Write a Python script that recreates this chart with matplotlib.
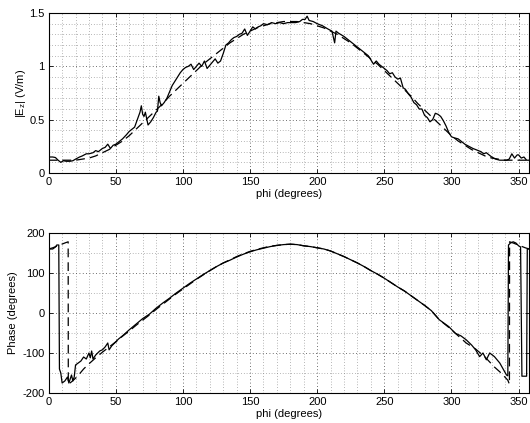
import matplotlib
matplotlib.use("Agg")
import matplotlib.pyplot as plt
from matplotlib.ticker import MultipleLocator

plt.rcParams['font.family'] = ['Liberation Sans', 'DejaVu Sans']

# ---- Data: |Ez| magnitude ----
mag_meas_phi = [0, 3, 5, 7, 9, 11, 13, 16, 18, 20, 23, 25, 28, 30, 33, 35, 37, 40, 42, 44,
                46, 48, 50, 53, 55, 58, 60, 62, 64, 66, 68, 69, 70, 71, 72, 74, 76, 78, 80, 81,
                82, 83, 84, 86, 88, 90, 92, 94, 96, 98, 100, 102, 104, 106, 108, 110, 112, 114, 116, 118,
                120, 122, 124, 126, 128, 130, 132, 134, 136, 138, 140, 142, 144, 146, 148, 150, 152, 154, 156, 158,
                160, 163, 166, 169, 172, 175, 178, 181, 184, 187, 189, 191, 192.5, 194, 197, 200, 204, 208, 211, 213,
                214, 216, 220, 224, 228, 231, 234, 238, 240, 242, 244, 246, 248, 250, 252, 254, 256, 258, 260, 262,
                264, 266, 268, 270, 272, 274, 276, 278, 280, 282, 284, 286, 288, 290, 292, 294, 296, 298, 300, 302,
                305, 308, 310, 313, 316, 318, 320, 322, 324, 326, 328, 330, 333, 336, 338, 341, 343, 345, 347, 349,
                350, 352, 354, 356, 358]
mag_meas = [0.15, 0.15, 0.145, 0.12, 0.10, 0.115, 0.11, 0.11, 0.115, 0.13, 0.15, 0.16, 0.18, 0.18, 0.19, 0.21, 0.20, 0.23, 0.24, 0.27,
            0.23, 0.26, 0.27, 0.30, 0.32, 0.36, 0.39, 0.41, 0.43, 0.50, 0.57, 0.63, 0.55, 0.53, 0.57, 0.45, 0.48, 0.52, 0.57, 0.58,
            0.72, 0.66, 0.63, 0.66, 0.70, 0.76, 0.82, 0.86, 0.90, 0.94, 0.97, 0.99, 1.00, 1.02, 0.97, 1.00, 1.03, 1.00, 1.05, 0.98,
            1.01, 1.04, 1.07, 1.03, 1.05, 1.12, 1.20, 1.22, 1.25, 1.27, 1.28, 1.30, 1.31, 1.35, 1.29, 1.33, 1.37, 1.35, 1.37, 1.38,
            1.40, 1.39, 1.41, 1.40, 1.41, 1.40, 1.41, 1.41, 1.41, 1.42, 1.44, 1.44, 1.47, 1.43, 1.42, 1.40, 1.38, 1.35, 1.33, 1.22,
            1.33, 1.31, 1.28, 1.24, 1.20, 1.17, 1.14, 1.10, 1.06, 1.02, 1.05, 1.02, 1.00, 0.98, 0.96, 0.93, 0.94, 0.90, 0.88, 0.89,
            0.80, 0.78, 0.74, 0.71, 0.66, 0.64, 0.60, 0.60, 0.54, 0.52, 0.48, 0.50, 0.56, 0.55, 0.53, 0.49, 0.44, 0.38, 0.34, 0.33,
            0.32, 0.29, 0.27, 0.25, 0.23, 0.22, 0.21, 0.20, 0.18, 0.19, 0.17, 0.15, 0.13, 0.12, 0.12, 0.12, 0.13, 0.18, 0.14, 0.17,
            0.17, 0.14, 0.15, 0.12, 0.12]

mag_theory_phi = [0, 5, 10, 15, 20, 25, 30, 35, 40, 45, 50, 55, 60, 65, 70, 75, 80, 85, 90, 95,
                  100, 105, 110, 115, 120, 125, 130, 135, 140, 145, 150, 155, 160, 165, 170, 175, 180, 185, 190, 195,
                  200, 205, 210, 215, 220, 225, 230, 235, 240, 245, 250, 255, 260, 265, 270, 275, 280, 285, 290, 295,
                  300, 305, 310, 315, 320, 325, 330, 335, 340, 345, 350, 355, 358]
mag_theory = [0.12, 0.12, 0.12, 0.12, 0.12, 0.13, 0.14, 0.16, 0.19, 0.22, 0.26, 0.30, 0.35, 0.41, 0.47, 0.53, 0.59, 0.65, 0.72, 0.78,
              0.84, 0.90, 0.96, 1.02, 1.07, 1.12, 1.17, 1.22, 1.26, 1.30, 1.33, 1.36, 1.38, 1.40, 1.41, 1.42, 1.42, 1.42, 1.41, 1.40,
              1.38, 1.36, 1.33, 1.30, 1.26, 1.22, 1.17, 1.12, 1.07, 1.02, 0.96, 0.90, 0.84, 0.78, 0.72, 0.65, 0.59, 0.53, 0.47, 0.41,
              0.35, 0.30, 0.26, 0.22, 0.19, 0.16, 0.14, 0.13, 0.12, 0.12, 0.12, 0.12, 0.12]

# ---- Data: phase ----
ph_meas_phi = [0, 3, 5, 6, 7.5, 8, 9, 10, 12, 13, 14, 15, 16, 17, 18, 19, 20, 22, 24, 26,
               28, 30, 31, 32, 33, 35, 38, 40, 42, 44, 45, 47, 50, 52, 55, 60, 65, 70, 75, 80,
               85, 90, 95, 100, 105, 110, 115, 120, 125, 130, 135, 140, 145, 150, 155, 160, 165, 170, 175, 180,
               185, 190, 195, 200, 205, 210, 215, 220, 225, 230, 235, 240, 245, 250, 255, 260, 265, 270, 275, 280,
               285, 291, 298, 303, 307, 311, 315, 318, 321, 323.5, 326, 328.5, 332, 336, 341, 342,
               342.5, 344, 346, 348, 350, 351.5, 352.5, 356, 356.5, 358]
ph_meas = [160, 160, 165, 170, 170, -140, -150, -175, -170, -165, -160, -175, -165, -155, -170, -160, -130, -125, -120, -110,
           -115, -100, -112, -95, -115, -105, -95, -92, -85, -75, -92, -82, -72, -65, -57, -42, -28, -14, -3, 12,
           25, 37, 50, 62, 74, 85, 96, 106, 116, 125, 132, 140, 147, 153, 158, 162, 166, 169, 171, 172,
           171, 168, 166, 163, 160, 155, 148, 141, 133, 125, 116, 106, 97, 87, 76, 65, 55, 43, 31, 19,
           6, -17, -34, -51, -57, -67, -80, -92, -109, -100, -117, -100, -109, -125, -155, -157,
           170, 175, 178, 175, 168, 165, -158, -158, 160, 160]

ph_theory_phi = [0, 3, 6, 9, 12, 14.5, 14.6, 17, 20, 23, 26, 30, 35, 40, 45, 50, 55, 60, 65, 70,
                 75, 80, 85, 90, 95, 100, 105, 110, 115, 120, 125, 130, 135, 140, 145, 150, 155, 160, 165, 170,
                 175, 180, 185, 190, 195, 200, 205, 210, 215, 220, 225, 230, 235, 240, 245, 250, 255, 260, 265, 270,
                 275, 280, 285, 291, 298, 305, 311, 318, 325, 332, 337, 342, 343.2, 343.3, 346, 349, 352,
                 355, 358]
ph_theory = [160, 163, 167, 171, 175, 178, -178, -172, -163, -152, -140, -127, -112, -98, -85, -72, -58, -45, -31, -18,
             -5, 9, 22, 35, 48, 60, 72, 84, 95, 106, 116, 125, 133, 141, 148, 154, 159, 163, 167, 169,
             171, 172, 171, 168, 166, 163, 160, 155, 148, 141, 133, 125, 116, 106, 97, 87, 76, 65, 55, 43,
             31, 19, 6, -17, -36, -57, -75, -90, -110, -135, -150, -168, -178, 178, 175, 171, 167,
             163, 160]

W, H = 530, 423
fig = plt.figure(figsize=(W / 100, H / 100), dpi=100)

ax_w = (529.3 - 48.7) / W
ax1 = fig.add_axes([48.7 / W, 1 - 173 / H, ax_w, 160 / H])
ax2 = fig.add_axes([48.7 / W, 1 - 393 / H, ax_w, 160 / H])

dash = (0, (7, 4))
ax1.plot(mag_meas_phi, mag_meas, color='black', lw=0.9)
ax1.plot(mag_theory_phi, mag_theory, color='black', lw=0.9, linestyle=dash)
ax2.plot(ph_meas_phi, ph_meas, color='black', lw=0.9)
ax2.plot(ph_theory_phi, ph_theory, color='black', lw=0.9, linestyle=dash)

ax1.set_ylim(0, 1.5)
ax1.set_yticks([0, 0.5, 1, 1.5])
ax1.set_yticklabels(['0', '0.5', '1', '1.5'])
ax1.yaxis.set_minor_locator(MultipleLocator(0.1))
ax1.set_ylabel('|E$_\\mathregular{z}$| (V/m)', fontsize=8)
ax1.yaxis.set_label_coords((28 - 48.7) / 480.6, 0.5)

ax2.set_ylim(-200, 200)
ax2.set_yticks([-200, -100, 0, 100, 200])
ax2.set_yticklabels(['-200', '-100', '0', '100', '200'])
ax2.yaxis.set_minor_locator(MultipleLocator(50))
ax2.set_ylabel('Phase (degrees)', fontsize=8)
ax2.yaxis.set_label_coords((18 - 48.7) / 480.6, 0.5)

for ax in (ax1, ax2):
    ax.set_xlim(0, 358)
    ax.set_xticks([0, 50, 100, 150, 200, 250, 300, 350])
    ax.xaxis.set_minor_locator(MultipleLocator(10))
    ax.set_xlabel('phi (degrees)', fontsize=8, labelpad=1)
    ax.tick_params(which='major', direction='in', top=True, right=True, length=3,
                   width=0.6, labelsize=8, pad=3)
    ax.tick_params(which='minor', direction='in', top=True, right=True, length=0)
    ax.grid(True, which='major', linestyle=(0, (1, 3)), color='0.25', linewidth=0.6)
    ax.grid(True, which='minor', linestyle=(0, (1, 3)), color='0.45', linewidth=0.5)
    ax.set_axisbelow(True)
    for s in ax.spines.values():
        s.set_linewidth(0.8)

fig.savefig('out.png', dpi=100)
